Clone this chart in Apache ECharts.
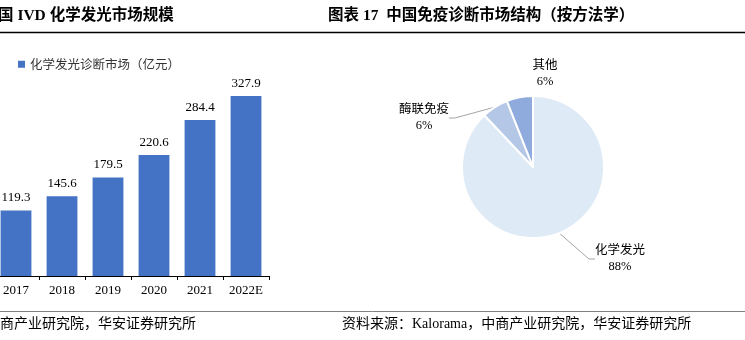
<!DOCTYPE html>
<html>
<head>
<meta charset="utf-8">
<script src="https://cdn.jsdelivr.net/npm/echarts@6/dist/echarts.min.js"></script>
<style>
  html, body { margin: 0; padding: 0; background: #fff; }
  #chart { width: 745px; height: 340px; }
</style>
</head>
<body>
<div id="chart"></div>
<script>
// Chemiluminescence market size (100 million CNY)
const years = ['2017', '2018', '2019', '2020', '2021', '2022E'];
const marketSize = [119.3, 145.6, 179.5, 220.6, 284.4, 327.9];
const barSeriesName = '化学发光诊断市场（亿元）';

// Immunodiagnostics market structure by methodology (%)
const methods = ['化学发光', '酶联免疫', '其他'];
const methodShare = [88, 6, 6];

const SERIF = "'Liberation Serif', 'Times New Roman', 'Noto Sans CJK SC'";
const CJK = "'Noto Sans CJK SC', 'Liberation Serif'";

// Label anchor points for the pie slices (x, y in px)
const pieLabelPos = [[620, 259], [424, 118], [545, 74]];

const chart = echarts.init(document.getElementById('chart'), null, { renderer: 'canvas' });

const option = {
  animation: false,
  backgroundColor: '#ffffff',
  legend: {
    left: 13,
    top: 53,
    itemWidth: 7,
    itemHeight: 7,
    icon: 'rect',
    textStyle: { fontFamily: CJK, fontSize: 12.5, color: '#333' },
    itemGap: 4,
    data: [barSeriesName]
  },
  grid: {
    left: -7, width: 276, top: 84, bottom: 64,
    containLabel: false,
    outerBoundsMode: 'none'
  },
  xAxis: {
    type: 'category',
    data: years,
    axisLine: { lineStyle: { color: '#000', width: 1 } },
    axisTick: { show: true, length: 4, lineStyle: { color: '#000' } },
    axisLabel: { color: '#000', fontFamily: SERIF, fontSize: 13, margin: 8 }
  },
  yAxis: {
    type: 'value',
    min: 0,
    max: 350,
    show: false
  },
  series: [
    {
      name: barSeriesName,
      type: 'bar',
      data: marketSize,
      barWidth: '67%',
      itemStyle: { color: '#4472C4' },
      label: {
        show: true,
        position: 'top',
        distance: 6,
        color: '#000',
        fontFamily: SERIF,
        fontSize: 13
      }
    },
    {
      name: '免疫诊断市场结构',
      type: 'pie',
      center: [533, 167],
      radius: 71,
      startAngle: 90,
      clockwise: true,
      avoidLabelOverlap: false,
      itemStyle: { borderColor: '#fff', borderWidth: 2 },
      data: methods.map((m, i) => ({
        name: m,
        value: methodShare[i],
        itemStyle: { color: ['#DEEAF6', '#B4C7E7', '#8FAADC'][i] },
        labelLine: { show: i !== 2 }
      })),
      label: {
        show: true,
        position: 'outside',
        formatter: p => p.name + '\n' + p.value + '%',
        fontFamily: SERIF,
        fontSize: 12.5,
        lineHeight: 16,
        color: '#000',
        align: 'center'
      },
      labelLine: {
        show: true,
        length: 10,
        length2: 6,
        lineStyle: { color: '#A6A6A6', width: 1 }
      },
      labelLayout: params => ({
        x: pieLabelPos[params.dataIndex][0],
        y: pieLabelPos[params.dataIndex][1],
        align: 'center',
        verticalAlign: 'middle'
      }),
      emphasis: { disabled: true }
    }
  ],
  graphic: [
    {
      type: 'text', left: -2, top: 8,
      style: { text: '国 IVD 化学发光市场规模', font: "bold 15.5px " + SERIF, fill: '#000' }
    },
    {
      type: 'text', left: 328, top: 8,
      style: { text: '图表 17  中国免疫诊断市场结构（按方法学）', font: "bold 15.5px " + SERIF, fill: '#000' }
    },
    {
      type: 'line', shape: { x1: 0, y1: 32.5, x2: 745, y2: 32.5 },
      style: { stroke: '#000', lineWidth: 1.5 }
    },
    {
      type: 'line', shape: { x1: 0, y1: 311.5, x2: 745, y2: 311.5 },
      style: { stroke: '#808080', lineWidth: 1 }
    },
    {
      type: 'text', left: 0, top: 317,
      style: { text: '商产业研究院，华安证券研究所', font: "14px " + SERIF, fill: '#000' }
    },
    {
      type: 'text', left: 342, top: 317,
      style: { text: '资料来源：Kalorama，中商产业研究院，华安证券研究所', font: "14px " + SERIF, fill: '#000' }
    }
  ]
};

chart.setOption(option);
</script>
</body>
</html>
